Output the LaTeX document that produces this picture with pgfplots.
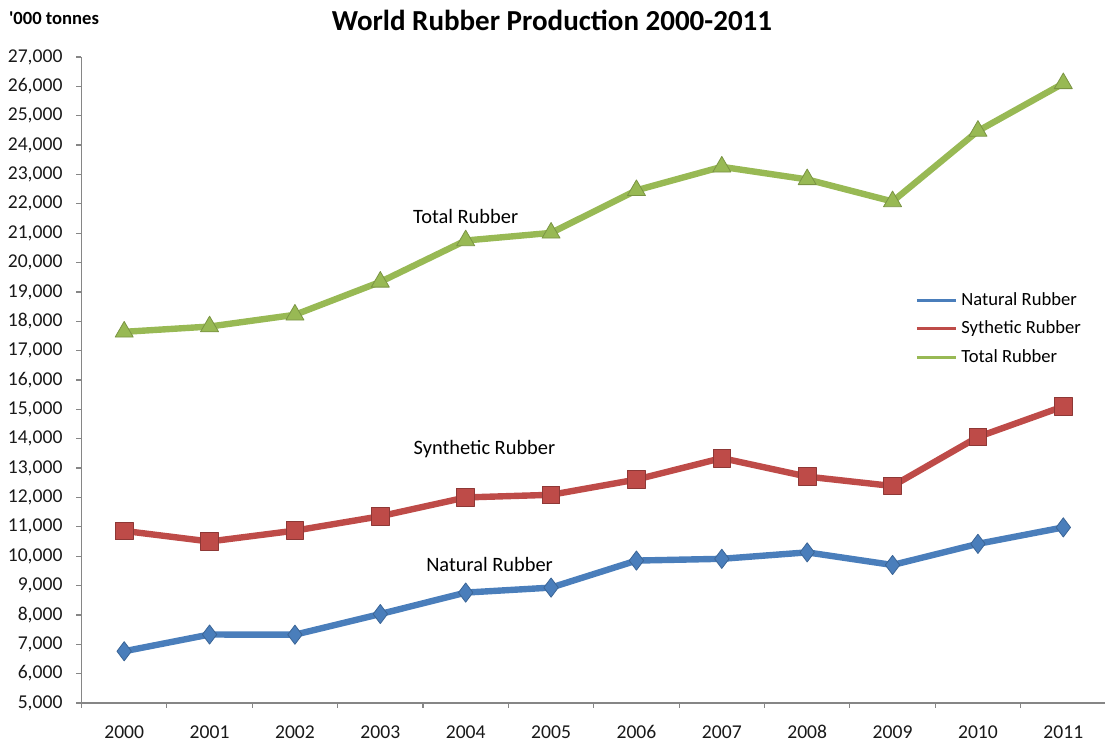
\documentclass[border=0pt]{standalone}
\usepackage{pgfplots}
\pgfplotsset{compat=1.18}
\usepackage{fontspec}
\setmainfont{Carlito}
\definecolor{nrblue}{HTML}{4A7EBB}
\definecolor{srred}{HTML}{BE4B48}
\definecolor{trgreen}{HTML}{98B954}
\definecolor{axgray}{HTML}{868686}
\begin{document}
\begin{tikzpicture}
\useasboundingbox (-40.75pt,-20.5pt) rectangle (511.75pt,351.5pt);
\begin{axis}[
  scale only axis,
  width=512.25pt, height=323pt,
  xmin=-0.5, xmax=11.5, ymin=5000, ymax=27000,
  axis x line=bottom, axis y line=left,
  axis line style={draw=axgray, line width=0.6pt, -},
  xtick={0,...,11},
  xticklabels={2000,2001,2002,2003,2004,2005,2006,2007,2008,2009,2010,2011},
  xtick style={draw=none},
  minor xtick={-0.5,0.5,...,11.5},
  minor x tick style={draw=axgray, line width=0.6pt},
  ytick={5000,6000,...,27000},
  y tick style={draw=axgray, line width=0.6pt},
  scaled y ticks=false,
  tick align=outside,
  major tick length=2.5pt, minor tick length=2.5pt,
  /pgf/number format/.cd, 1000 sep={,}, fixed, assume math mode=true,
  /pgfplots/.cd,
  tick label style={font=\fontsize{9.8}{11}\selectfont, text=black!90},
  xticklabel style={text height=7pt, text depth=0pt, yshift=-4.5pt},
  yticklabel style={xshift=-3.5pt},
  legend style={at={(0.8136,0.642)}, anchor=north west, draw=none, fill=none,
    font=\fontsize{9.3}{11}\selectfont, row sep=2.2pt, inner sep=0pt},
  legend cell align=left,
  legend image code/.code={\draw[#1, line width=1.5pt] (0pt,0pt) -- (19.5pt,0pt);},
  every axis plot/.append style={line width=3.2pt, line join=round},
]
\addplot[color=nrblue, mark=diamond*, mark size=4.8pt,
  mark options={fill=nrblue, draw=nrblue!80!black, line width=0.4pt}]
  coordinates {(0,6762) (1,7332) (2,7326) (3,8030) (4,8760) (5,8930) (6,9850) (7,9910) (8,10130) (9,9700) (10,10420) (11,10980)};
\addlegendentry{Natural\ Rubber}
\addplot[color=srred, mark=square*, mark size=4.4pt,
  mark options={fill=srred, draw=srred!75!black, line width=0.4pt}]
  coordinates {(0,10860) (1,10500) (2,10870) (3,11360) (4,12000) (5,12090) (6,12610) (7,13340) (8,12710) (9,12390) (10,14060) (11,15100)};
\addlegendentry{Sythetic Rubber}
\addplot[color=trgreen, mark=triangle*, mark size=5.2pt,
  mark options={fill=trgreen, draw=trgreen!80!black, line width=0.4pt}]
  coordinates {(0,17640) (1,17820) (2,18220) (3,19340) (4,20750) (5,21010) (6,22460) (7,23260) (8,22830) (9,22080) (10,24480) (11,26100)};
\addlegendentry{Total Rubber}
\node[font=\fontsize{10.2}{12}\selectfont] at (axis cs:4.0,21560) {Total Rubber};
\node[font=\fontsize{10.2}{12}\selectfont] at (axis cs:4.22,13650) {Synthetic Rubber};
\node[font=\fontsize{10.2}{12}\selectfont] at (axis cs:4.28,9730) {Natural Rubber};
\end{axis}
\node[font=\bfseries\fontsize{14.5}{16}\selectfont] at (235.25pt,341.5pt) {World Rubber Production 2000-2011};
\node[font=\bfseries\fontsize{9.3}{11}\selectfont] at (-13.75pt,342.5pt) {\textquotesingle 000 tonnes};
\end{tikzpicture}
\end{document}
